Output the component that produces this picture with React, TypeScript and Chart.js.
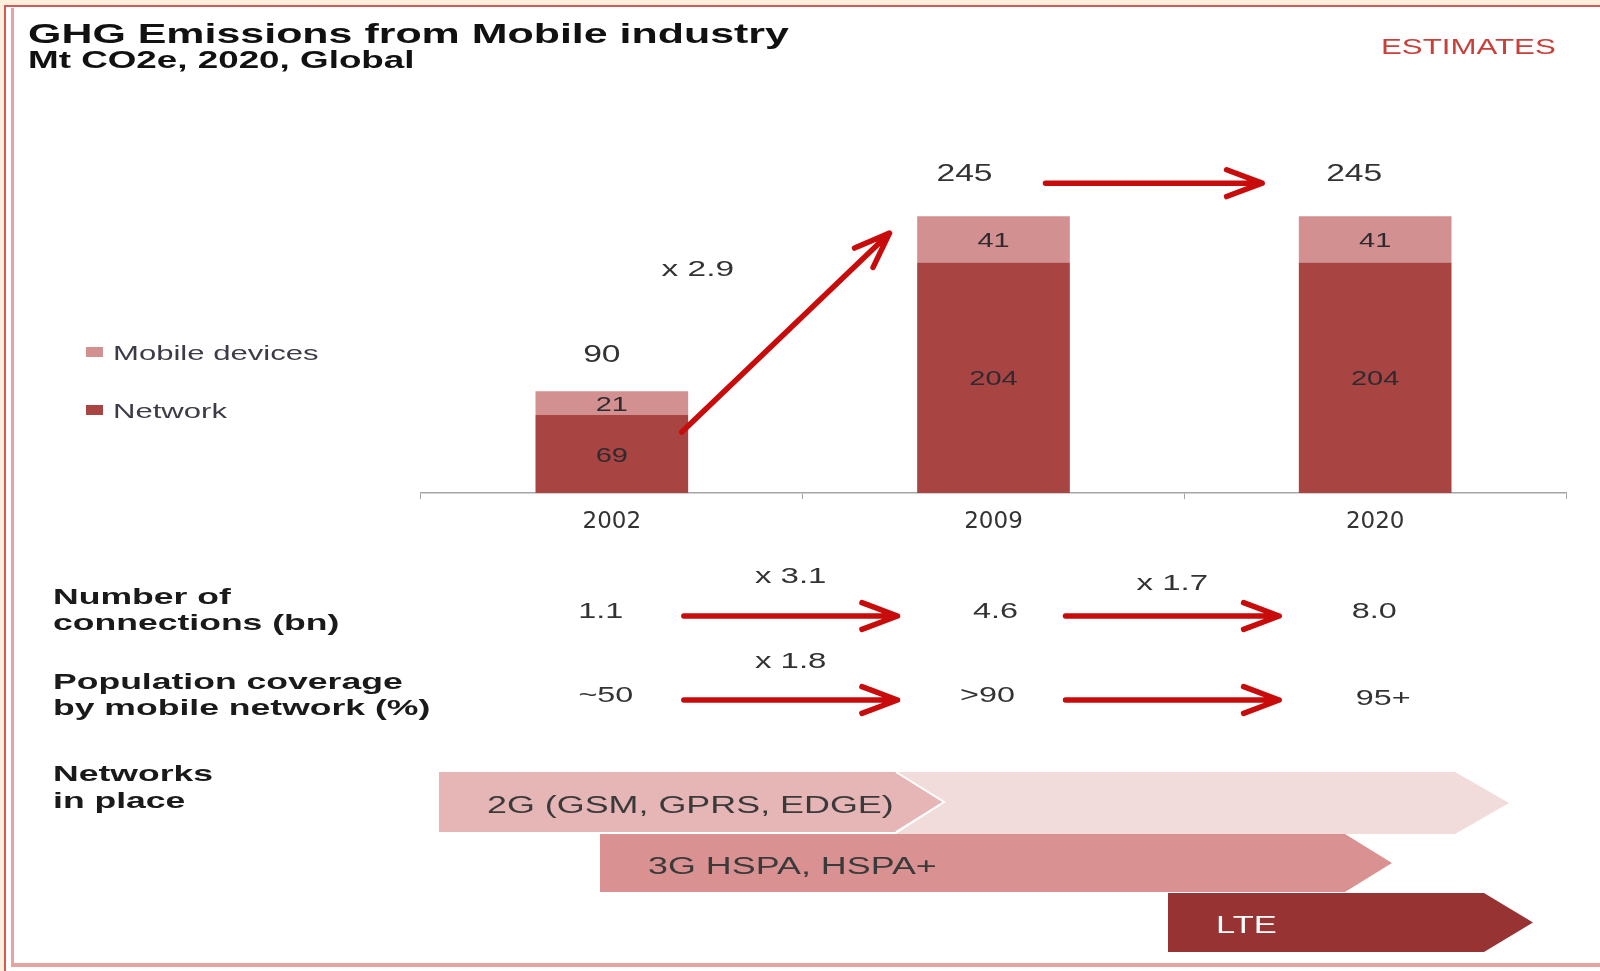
import React, { useEffect, useRef } from 'react';
import { Chart, registerables } from 'chart.js';

Chart.register(...registerables);

// ---------- data ----------
const years = ['2002', '2009', '2020'];
const seriesNames = ['Network', 'Mobile devices'];
const networkValues = [69, 204, 204];
const deviceValues = [21, 41, 41];
const totalValues = [90, 245, 245];
const emissionGrowth = 'x 2.9';
const connections = ['1.1', '4.6', '8.0'];
const connectionGrowth = ['x 3.1', 'x 1.7'];
const coverage = ['~50', '>90', '95+'];
const coverageGrowth = ['x 1.8', ''];
const networkGens = ['2G (GSM, GPRS, EDGE)', '3G HSPA, HSPA+', 'LTE'];

// ---------- styles ----------
const FONT = '"Liberation Sans", Arial, Helvetica, sans-serif';
const RED = '#c80c0c';
const NETWORK_COLOR = '#a84442';
const DEVICE_COLOR = '#d39090';
const TOTAL_DX = [-10, -29, -21];
const TOTAL_DY = [-38, -44, -44];
const CONN_DX = [-11, 2, -1];
const COV_DX = [-6, -6, 8];

function drawText(
  ctx: CanvasRenderingContext2D,
  text: string,
  x: number,
  cy: number,
  size: number,
  sx: number,
  color: string,
  align: CanvasTextAlign = 'center',
  bold = false
) {
  ctx.save();
  ctx.font = `${bold ? 'bold ' : ''}${size}px ${FONT}`;
  ctx.fillStyle = color;
  ctx.textAlign = align;
  ctx.textBaseline = 'alphabetic';
  ctx.translate(x, cy + size * 0.358);
  ctx.scale(sx, 1);
  ctx.fillText(text, 0, 0);
  ctx.restore();
}

function drawArrow(ctx: CanvasRenderingContext2D, x1: number, y1: number, x2: number, y2: number) {
  const ang = Math.atan2(y2 - y1, x2 - x1);
  const len = 38;
  const spread = 0.36;
  ctx.save();
  ctx.strokeStyle = RED;
  ctx.lineWidth = 5.5;
  ctx.lineCap = 'round';
  ctx.lineJoin = 'round';
  ctx.beginPath();
  ctx.moveTo(x1, y1);
  ctx.lineTo(x2, y2);
  ctx.moveTo(x2 - len * Math.cos(ang - spread), y2 - len * Math.sin(ang - spread));
  ctx.lineTo(x2, y2);
  ctx.lineTo(x2 - len * Math.cos(ang + spread), y2 - len * Math.sin(ang + spread));
  ctx.stroke();
  ctx.restore();
}

function chevronPath(
  ctx: CanvasRenderingContext2D,
  x0: number,
  x1: number,
  tip: number,
  top: number,
  bottom: number,
  notch: number
) {
  const mid = (top + bottom) / 2;
  ctx.beginPath();
  ctx.moveTo(x0, top);
  ctx.lineTo(x1, top);
  ctx.lineTo(tip, mid);
  ctx.lineTo(x1, bottom);
  ctx.lineTo(x0, bottom);
  if (notch) ctx.lineTo(x0 + notch, mid);
  ctx.closePath();
}

const overlayPlugin = {
  id: 'overlay',
  afterDraw(chart: any) {
    const ctx: CanvasRenderingContext2D = chart.ctx;
    const xs = chart.scales.x;
    const ys = chart.scales.y;
    const cx = (i: number) => xs.getPixelForValue(i);

    // segment value labels
    chart.data.datasets.forEach((ds: any, di: number) => {
      const meta = chart.getDatasetMeta(di);
      meta.data.forEach((el: any, i: number) => {
        const p = el.getProps(['x', 'y', 'base'], true);
        drawText(ctx, String(ds.data[i]), p.x, (p.y + p.base) / 2, 21, 1.38, '#2e2a30');
      });
    });

    // totals
    totalValues.forEach((v, i) => {
      drawText(ctx, String(v), cx(i) + TOTAL_DX[i], ys.getPixelForValue(v) + TOTAL_DY[i], 24, 1.4, '#333333');
    });

    // diagonal growth arrow 2002 -> 2009
    const dStartX = cx(0) + 70;
    const dStartY = ys.getPixelForValue(networkValues[0]) + 17;
    const dEndX = cx(1) - 104;
    const dEndY = ys.getPixelForValue(totalValues[1]) + 17;
    drawArrow(ctx, dStartX, dStartY, dEndX, dEndY);
    drawText(ctx, emissionGrowth, cx(0) + 86, ys.getPixelForValue(totalValues[1]) + 52, 22, 1.52, '#333333');

    // flat arrow 2009 -> 2020
    const topY = ys.getPixelForValue(totalValues[1]) - 33;
    drawArrow(ctx, cx(1) + 52, topY, cx(2) - 113, topY);

    // metric rows
    const rows = [
      { values: connections, growth: connectionGrowth, dx: CONN_DX, vy: [610, 610, 610], ay: 616, gy: [575, 582] },
      { values: coverage, growth: coverageGrowth, dx: COV_DX, vy: [694, 694, 697], ay: 700, gy: [660, 660] },
    ];
    rows.forEach((r) => {
      r.values.forEach((v, i) => drawText(ctx, v, cx(i) + r.dx[i], r.vy[i], 22, 1.47, '#333333'));
      for (let i = 0; i < 2; i++) {
        const a = cx(i) + 72;
        const b = cx(i + 1) - 96;
        drawArrow(ctx, a, r.ay, b, r.ay);
        if (r.growth[i]) drawText(ctx, r.growth[i], (a + b) / 2, r.gy[i], 22, 1.5, '#333333');
      }
    });

    // networks in place chevrons
    ctx.save();
    chevronPath(ctx, 896, 1455, 1509, 772, 834, 48);
    ctx.fillStyle = '#f2dbdb';
    ctx.fill();
    chevronPath(ctx, 439, 896, 944, 772, 832, 0);
    ctx.fillStyle = '#e6b6b6';
    ctx.fill();
    ctx.beginPath();
    ctx.moveTo(896, 772);
    ctx.lineTo(944, 802);
    ctx.lineTo(896, 832);
    ctx.strokeStyle = '#ffffff';
    ctx.lineWidth = 2;
    ctx.stroke();
    chevronPath(ctx, 600, 1345, 1392, 834, 892, 0);
    ctx.fillStyle = '#d99291';
    ctx.fill();
    chevronPath(ctx, 1168, 1484, 1533, 893, 952, 0);
    ctx.fillStyle = '#973333';
    ctx.fill();
    ctx.restore();

    drawText(ctx, networkGens[0], 487, 805, 23, 1.56, '#3a3a3a', 'left');
    drawText(ctx, networkGens[1], 648, 866, 23, 1.56, '#3a3a3a', 'left');
    drawText(ctx, networkGens[2], 1216, 925, 23, 1.5, '#ffffff', 'left');
  },
};

type TextProps = {
  x: number;
  cy: number;
  size: number;
  sx: number;
  bold?: boolean;
  color?: string;
  children: React.ReactNode;
};

function Txt({ x, cy, size, sx, bold, color = '#1a1a1a', children }: TextProps) {
  return (
    <div
      style={{
        position: 'absolute',
        left: x,
        top: cy - size * 0.59,
        fontFamily: FONT,
        fontSize: size,
        lineHeight: `${size * 1.2}px`,
        fontWeight: bold ? 700 : 400,
        color,
        whiteSpace: 'nowrap',
        transform: `scaleX(${sx})`,
        transformOrigin: '0 50%',
      }}
    >
      {children}
    </div>
  );
}

export default function App() {
  const canvasRef = useRef<HTMLCanvasElement | null>(null);

  useEffect(() => {
    const canvas = canvasRef.current;
    if (!canvas) return;
    const chart = new Chart(canvas, {
      type: 'bar',
      data: {
        labels: years,
        datasets: [
          { label: seriesNames[0], data: networkValues, backgroundColor: NETWORK_COLOR, stack: 's' },
          { label: seriesNames[1], data: deviceValues, backgroundColor: DEVICE_COLOR, stack: 's' },
        ],
      },
      options: {
        responsive: false,
        animation: false,
        devicePixelRatio: 1,
        layout: { padding: { left: 421, right: 34, top: 154, bottom: 438 } },
        datasets: { bar: { barPercentage: 0.4, categoryPercentage: 1 } },
        plugins: {
          legend: { display: false },
          tooltip: { enabled: false },
          title: { display: false },
        },
        scales: {
          x: {
            stacked: true,
            grid: {
              display: true,
              drawOnChartArea: false,
              drawTicks: true,
              tickLength: 6,
              color: '#a6a6a6',
              offset: true,
            },
            border: { display: true, color: '#a6a6a6', width: 1.5 },
            ticks: { color: '#333333', font: { family: 'DejaVu Sans', size: 23 }, padding: 9 },
            afterFit: (s: any) => {
              s.height = 40;
            },
          },
          y: { stacked: true, display: false, min: 0, max: 300 },
        },
      },
      plugins: [overlayPlugin],
    } as any);
    return () => chart.destroy();
  }, []);

  return (
    <div
      style={{
        position: 'fixed',
        left: 0,
        top: 0,
        width: 1600,
        height: 971,
        background: '#fcefdc',
        overflow: 'hidden',
      }}
    >
      {/* frame */}
      <div
        style={{
          position: 'absolute',
          left: 4,
          top: 5,
          width: 1600,
          height: 980,
          background: '#ffffff',
          borderTop: '2px solid #d45a5a',
          borderLeft: '2px solid #d45a5a',
        }}
      />
      <div style={{ position: 'absolute', left: 11, top: 8, width: 3, height: 959, background: '#e7a3a3' }} />
      <div style={{ position: 'absolute', left: 11, top: 963, width: 1600, height: 4, background: '#e7a3a3' }} />

      <canvas
        ref={canvasRef}
        width={1600}
        height={971}
        style={{ position: 'absolute', left: 0, top: 0, width: 1600, height: 971 }}
      />

      {/* headings */}
      <Txt x={28} cy={34} size={27} sx={1.59} bold color="#111111">
        GHG Emissions from Mobile industry
      </Txt>
      <Txt x={28} cy={61} size={23} sx={1.6} bold color="#111111">
        Mt CO2e, 2020, Global
      </Txt>
      <Txt x={1381} cy={47} size={22} sx={1.42} color="#c8403a">
        ESTIMATES
      </Txt>

      {/* legend */}
      <div style={{ position: 'absolute', left: 86, top: 347, width: 17, height: 10, background: DEVICE_COLOR }} />
      <Txt x={113} cy={352} size={21} sx={1.48} color="#3c3c48">
        {seriesNames[1]}
      </Txt>
      <div style={{ position: 'absolute', left: 86, top: 405, width: 17, height: 10, background: NETWORK_COLOR }} />
      <Txt x={113} cy={410} size={21} sx={1.48} color="#3c3c48">
        {seriesNames[0]}
      </Txt>

      {/* row labels */}
      <Txt x={53} cy={596} size={22.5} sx={1.58} bold>
        Number of
      </Txt>
      <Txt x={53} cy={622} size={22.5} sx={1.58} bold>
        connections (bn)
      </Txt>
      <Txt x={53} cy={681} size={22.5} sx={1.58} bold>
        Population coverage
      </Txt>
      <Txt x={53} cy={707} size={22.5} sx={1.58} bold>
        by mobile network (%)
      </Txt>
      <Txt x={53} cy={773} size={22.5} sx={1.58} bold>
        Networks
      </Txt>
      <Txt x={53} cy={800} size={22.5} sx={1.58} bold>
        in place
      </Txt>
    </div>
  );
}
